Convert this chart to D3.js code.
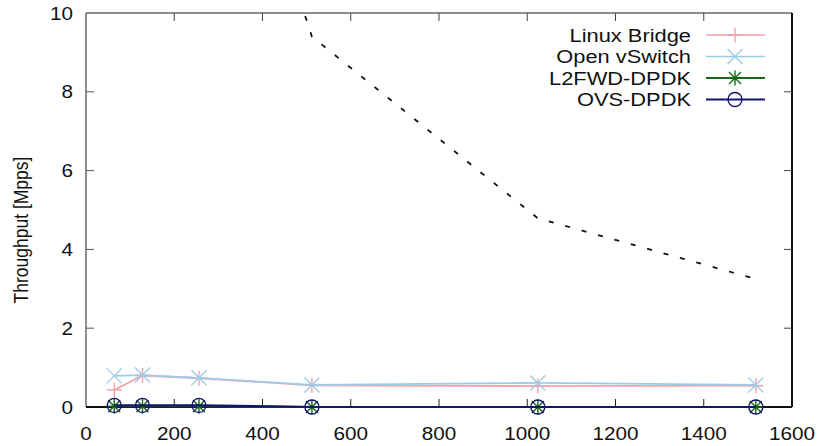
<!DOCTYPE html>
<html>
<head>
<meta charset="utf-8">
<script src="https://cdn.jsdelivr.net/npm/d3@7"></script>
<style>
  html, body { margin: 0; padding: 0; background: #fff; }
  svg { display: block; font-family: "Liberation Sans", Arial, Helvetica, sans-serif; }
</style>
</head>
<body>
<svg id="chart" width="821" height="446"></svg>
<script>
// Packet sizes (bytes) on the x axis
const packetSizes = [64, 128, 256, 512, 1024, 1518];

// Measured throughput per switch (Mpps)
const linuxBridge = [0.43, 0.80, 0.73, 0.55, 0.53, 0.54];
const openVSwitch = [0.79, 0.81, 0.74, 0.56, 0.61, 0.56];
const l2fwdDpdk   = [0.02, 0.02, 0.02, 0.00, 0.00, 0.00];
const ovsDpdk     = [0.04, 0.04, 0.04, 0.00, 0.00, 0.00];

// 40 GbE line rate reference (Mpps)
const lineRateSizes = [256, 512, 1024, 1518];
const lineRate      = [18.12, 9.40, 4.79, 3.25];

// Axis ticks
const xTicks = [0, 200, 400, 600, 800, 1000, 1200, 1400, 1600];
const yTicks = [0, 2, 4, 6, 8, 10];

const seriesNames = ["Linux Bridge", "Open vSwitch", "L2FWD-DPDK", "OVS-DPDK"];
const seriesValues = [linuxBridge, openVSwitch, l2fwdDpdk, ovsDpdk];
const seriesColors = ["#f2a3ac", "#9ccbe9", "#166a16", "#14146e"];
const seriesMarkers = ["plus", "cross", "star", "circle"];

const svg = d3.select("#chart");
const plot = { left: 86, right: 792, top: 13, bottom: 407 };
const stretch = 1.15;

const x = d3.scaleLinear().domain([0, 1600]).range([plot.left, plot.right]);
const y = d3.scaleLinear().domain([0, 10]).range([plot.bottom, plot.top]);

svg.append("defs").append("clipPath").attr("id", "plotClip")
  .append("rect")
  .attr("x", plot.left).attr("y", plot.top)
  .attr("width", plot.right - plot.left).attr("height", plot.bottom - plot.top);

// Marker shapes
function drawMarker(g, type, cx, cy, color) {
  const s = 7.5;
  const m = g.append("g").attr("transform", `translate(${cx},${cy})`)
    .attr("stroke", color).attr("fill", "none").attr("stroke-width", 1.4);
  if (type === "plus") {
    m.append("path").attr("d", `M${-s},0H${s}M0,${-s}V${s}`);
  } else if (type === "cross") {
    m.append("path").attr("d", `M${-s},${-s}L${s},${s}M${-s},${s}L${s},${-s}`);
  } else if (type === "star") {
    m.append("path").attr("d", `M${-s},0H${s}M0,${-s}V${s}M${-s*0.8},${-s*0.8}L${s*0.8},${s*0.8}M${-s*0.8},${s*0.8}L${s*0.8},${-s*0.8}`);
  } else if (type === "circle") {
    m.append("circle").attr("r", 7);
  }
}

// Frame and inward ticks
const frame = svg.append("g");
frame.append("line").attr("x1", plot.left).attr("x2", plot.left)
  .attr("y1", plot.top).attr("y2", plot.bottom).attr("stroke", "#555").attr("stroke-width", 1.3);
frame.append("line").attr("x1", plot.left).attr("x2", plot.right)
  .attr("y1", plot.top).attr("y2", plot.top).attr("stroke", "#666").attr("stroke-width", 1.3);
frame.append("line").attr("x1", plot.left).attr("x2", plot.right)
  .attr("y1", plot.bottom).attr("y2", plot.bottom).attr("stroke", "#111").attr("stroke-width", 2);
frame.append("line").attr("x1", plot.right).attr("x2", plot.right)
  .attr("y1", plot.top).attr("y2", plot.bottom).attr("stroke", "#111").attr("stroke-width", 2);

const tickLen = 8;
xTicks.slice(1, -1).forEach(t => {
  frame.append("line").attr("x1", x(t)).attr("x2", x(t))
    .attr("y1", plot.bottom).attr("y2", plot.bottom - tickLen).attr("stroke", "#222");
  frame.append("line").attr("x1", x(t)).attr("x2", x(t))
    .attr("y1", plot.top).attr("y2", plot.top + tickLen).attr("stroke", "#444");
});
yTicks.slice(1, -1).forEach(t => {
  frame.append("line").attr("x1", plot.left).attr("x2", plot.left + tickLen)
    .attr("y1", y(t)).attr("y2", y(t)).attr("stroke", "#555");
  frame.append("line").attr("x1", plot.right).attr("x2", plot.right - tickLen)
    .attr("y1", y(t)).attr("y2", y(t)).attr("stroke", "#444");
});

// Tick labels
const labels = svg.append("g").attr("fill", "#111").attr("font-size", 18);
xTicks.forEach(t => {
  labels.append("text")
    .attr("transform", `translate(${x(t)},${440}) scale(${stretch},1)`)
    .attr("text-anchor", "middle").text(t);
});
yTicks.forEach(t => {
  labels.append("text")
    .attr("transform", `translate(${73},${y(t) + 6.5}) scale(${stretch},1)`)
    .attr("text-anchor", "end").text(t);
});
svg.append("text")
  .attr("transform", `translate(28,230) scale(${stretch},1) rotate(-90)`)
  .attr("text-anchor", "middle").attr("font-size", 17.5).attr("fill", "#111")
  .text("Throughput [Mpps]");

// Line rate reference (dashed)
const lineGen = d3.line().x(d => x(d[0])).y(d => y(d[1]));
svg.append("path")
  .attr("clip-path", "url(#plotClip)")
  .attr("d", lineGen(lineRateSizes.map((s, i) => [s, lineRate[i]])))
  .attr("fill", "none").attr("stroke", "#111").attr("stroke-width", 1.8)
  .attr("stroke-dasharray", "5,12");

// Measured series
seriesValues.forEach((vals, k) => {
  const g = svg.append("g");
  g.append("path")
    .attr("d", lineGen(packetSizes.map((s, i) => [s, vals[i]])))
    .attr("fill", "none").attr("stroke", seriesColors[k])
    .attr("stroke-width", k >= 2 ? 2.2 : 1.8);
  packetSizes.forEach((s, i) => drawMarker(g, seriesMarkers[k], x(s), y(vals[i]), seriesColors[k]));
});

// Legend
const legend = svg.append("g");
seriesNames.forEach((name, k) => {
  const cy = 35 + k * 21.5;
  legend.append("text")
    .attr("transform", `translate(691,${cy + 6.5}) scale(${stretch},1)`)
    .attr("text-anchor", "end").attr("font-size", 19).attr("fill", "#111")
    .text(name);
  legend.append("line").attr("x1", 706).attr("x2", 765)
    .attr("y1", cy).attr("y2", cy)
    .attr("stroke", seriesColors[k]).attr("stroke-width", k >= 2 ? 2 : 1.6);
  drawMarker(legend, seriesMarkers[k], 735, cy, seriesColors[k]);
});
</script>
</body>
</html>
